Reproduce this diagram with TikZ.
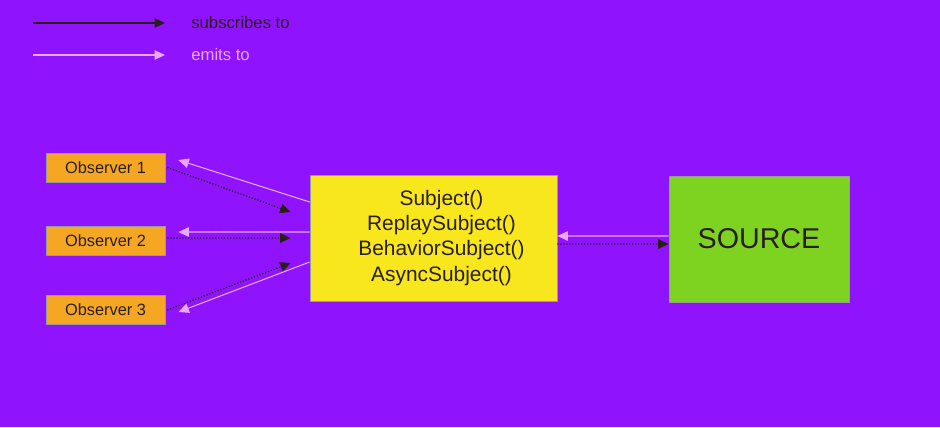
\documentclass[tikz,border=0pt]{standalone}
\usepackage{fontspec}
\setmainfont{Liberation Sans}
\usetikzlibrary{arrows.meta}
\definecolor{bgpurple}{HTML}{9013FE}
\definecolor{subjyellow}{HTML}{F8E71C}
\definecolor{srcgreen}{HTML}{7ED321}
\definecolor{obsorange}{HTML}{F5A623}
\definecolor{inkdark}{HTML}{2A1E1A}
\definecolor{emitpink}{HTML}{E8A9FA}
\tikzset{
  obsbox/.style={draw=black!40, line width=0.4pt, fill=obsorange, text=inkdark,
    minimum width=2.38cm, minimum height=0.58cm, inner sep=0pt, font=\fontsize{9.3}{11}\selectfont},
  subs/.style={inkdark, line width=0.7pt, densely dotted, -{Triangle[length=0.21cm,width=0.19cm]}},
  emit/.style={emitpink, line width=0.6pt, -{Triangle[length=0.21cm,width=0.19cm]}},
}
\begin{document}
\begin{tikzpicture}[x=0.02cm, y=-0.02cm]
			%%%%% START %%%%%
			
			\fill[bgpurple] (0, 0) rectangle (940, 427);
			\useasboundingbox (0, 0) rectangle (940, 427);
			
			% legend
			\coordinate (subsA) at (33, 23);
			\coordinate (subsB) at (165, 23);
			\coordinate (emitA) at (33, 55);
			\coordinate (emitB) at (165, 55);
			\node[anchor=west, inner sep=0pt, text=inkdark, font=\fontsize{9.5}{11}\selectfont] (subsText) at (191, 23) {subscribes to};
			\node[anchor=west, inner sep=0pt, text=emitpink, font=\fontsize{9.5}{11}\selectfont] (emitText) at (191, 55) {emits to};
			\draw[subs, solid] (subsA) -- (subsB);
			\draw[emit] (emitA) -- (emitB);
			
			% observers
			\node[obsbox] (obs1) at (105.5, 167.5) {Observer 1};
			\node[obsbox] (obs2) at (105.5, 240.5) {Observer 2};
			\node[obsbox] (obs3) at (105.5, 310) {Observer 3};
			
			% subject
			\node[draw=black!40, line width=0.4pt, fill=subjyellow, minimum width=4.94cm, minimum height=2.52cm] (subj) at (433.5, 238) {};
			\node[text=inkdark, align=center, font=\fontsize{11.9}{14.3}\selectfont] (subjText) at (441.5, 238)
				{Subject()\\ReplaySubject()\\BehaviorSubject()\\AsyncSubject()};
			
			% source
			\node[draw=black!40, line width=0.4pt, fill=srcgreen, text=inkdark, minimum width=3.6cm, minimum height=2.52cm,
				font=\fontsize{16.3}{19}\selectfont] (src) at (759, 239) {SOURCE};
			
			\draw[emit] ([yshift=0.72cm]subj.west) -- ([xshift=0.26cm, yshift=0.15cm]obs1.east);
			\draw[subs] ([xshift=0.04cm]obs1.east) -- ([xshift=-0.38cm, yshift=0.52cm]subj.west);
			
			\draw[emit] ([yshift=0.12cm]subj.west) -- ([xshift=0.26cm, yshift=0.17cm]obs2.east);
			\draw[subs] ([xshift=0.04cm, yshift=0.05cm]obs2.east) -- ([xshift=-0.38cm]subj.west);
			
			\draw[subs] ([xshift=0.04cm]obs3.east) -- ([xshift=-0.38cm, yshift=-0.5cm]subj.west);
			\draw[emit] ([yshift=-0.48cm]subj.west) -- ([xshift=0.26cm, yshift=-0.04cm]obs3.east);
			
			\draw[emit] ([yshift=0.06cm]src.west) -- ([yshift=0.04cm]subj.east);
			\draw[subs] ([yshift=-0.12cm]subj.east) -- ([yshift=-0.1cm]src.west);
			
			%%%%% END %%%%%
		\end{tikzpicture}
\end{document}
